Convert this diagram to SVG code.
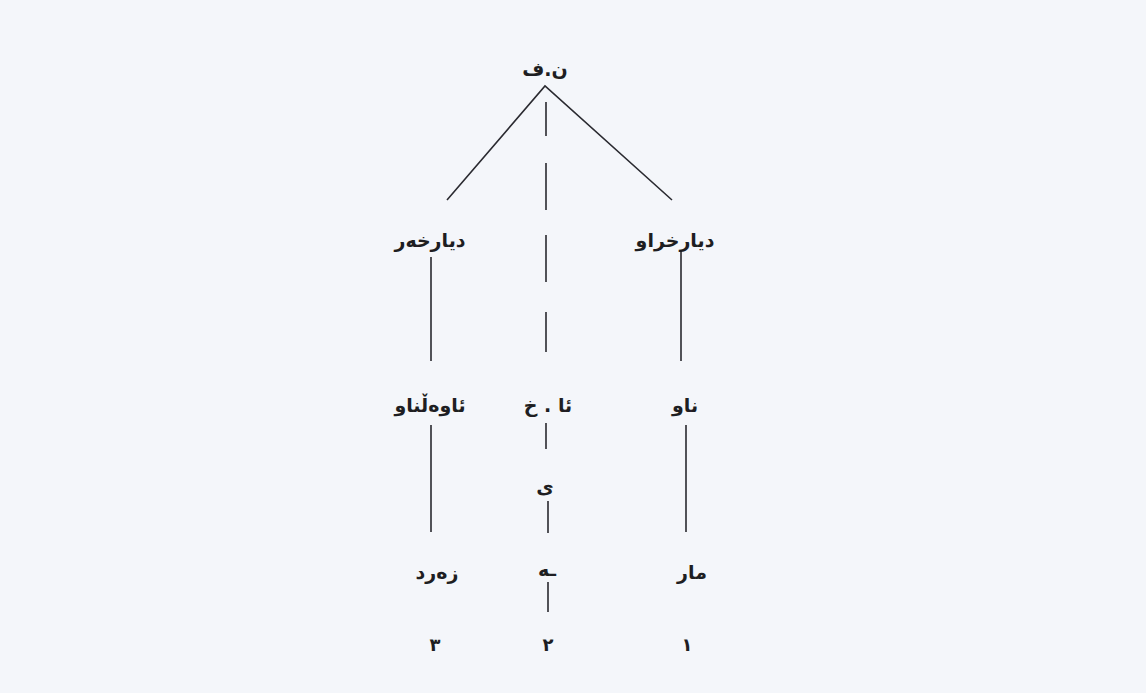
<svg xmlns="http://www.w3.org/2000/svg" width="1146" height="693" viewBox="0 0 1146 693">
<style>
.t{font-family:"DejaVu Sans","Noto Sans",sans-serif;font-weight:bold;font-size:19px;fill:#1e1e22;text-anchor:middle;direction:rtl}
.n{font-size:18px}
.c{stroke:#2a2a30;stroke-width:1.6;fill:none}
</style>
<rect width="1146" height="693" fill="#f4f6fa"/>
<g id="connectors">
<path class="c" d="M447,200 L545,86 L672,200"/>
<path class="c" d="M546,102 V136 M546,163 V210 M546,235 V282 M546,312 V352"/>
<path class="c" d="M431,257 V361 M431,425 V532"/>
<path class="c" d="M681,250 V361 M686,425 V532"/>
<path class="c" d="M546,423 V449 M548,501 V533 M548,582 V612"/>
</g>
<g id="root"><text class="t" x="545" y="76">ن.ف</text></g>
<g id="modifier"><text class="t" x="430" y="247">دیارخەر</text></g>
<g id="modified"><text class="t" x="675" y="247">دیارخراو</text></g>
<g id="adjective"><text class="t" x="430" y="412">ئاوەڵناو</text></g>
<g id="izafe"><text class="t" x="548" y="412">ئا . خ</text></g>
<g id="noun"><text class="t" x="685" y="412">ناو</text></g>
<g id="ye"><text class="t" x="545" y="493">ی</text></g>
<g id="zerd"><text class="t" x="437" y="579">زەرد</text></g>
<g id="he"><text class="t" x="547" y="576">ـە</text></g>
<g id="mar"><text class="t" x="692" y="579">مار</text></g>
<g id="num3"><text class="t n" x="435" y="651">٣</text></g>
<g id="num2"><text class="t n" x="548" y="651">٢</text></g>
<g id="num1"><text class="t n" x="687" y="651">١</text></g>
</svg>
